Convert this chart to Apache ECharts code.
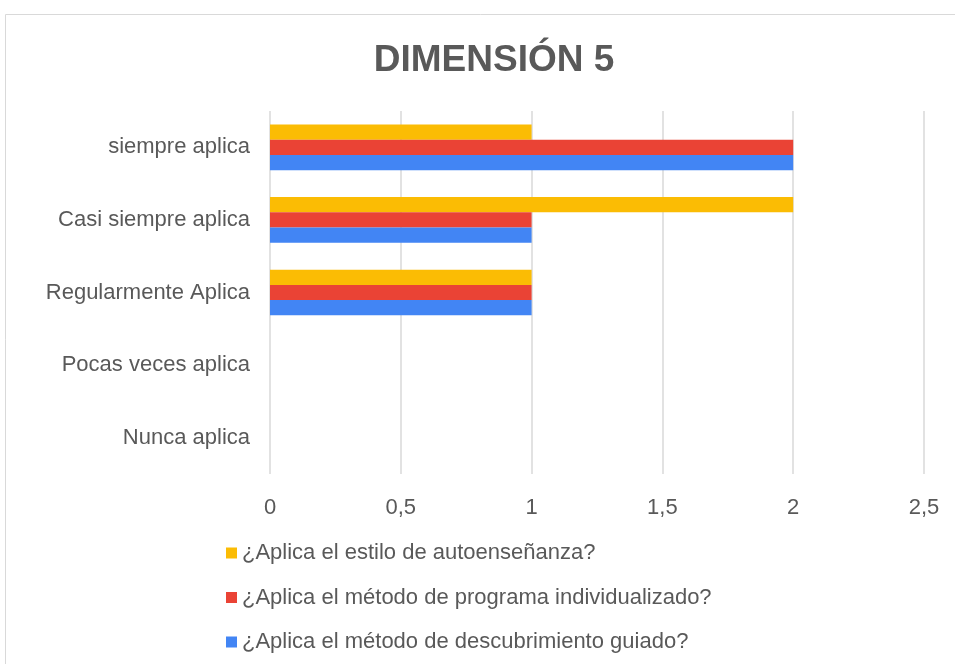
<!DOCTYPE html>
<html>
<head>
<meta charset="utf-8">
<script src="https://cdn.jsdelivr.net/npm/echarts@6/dist/echarts.min.js"></script>
<style>
html, body { margin: 0; padding: 0; background: #fff; }
#chart { width: 955px; height: 664px; }
</style>
</head>
<body>
<div id="chart"></div>
<script>
// categories bottom -> top (category axis on y starts at the bottom)
const categories = ['Nunca aplica', 'Pocas veces aplica', 'Regularmente Aplica', 'Casi siempre aplica', 'siempre aplica'];
const seriesNames = [
    '¿Aplica el estilo de autoenseñanza?',
    '¿Aplica el método de programa individualizado?',
    '¿Aplica el método de descubrimiento guiado?'
];
const autoensenanza = [0, 0, 1, 2, 1];
const programaIndividualizado = [0, 0, 1, 1, 2];
const descubrimientoGuiado = [0, 0, 1, 1, 2];
const colors = ['#FBBC04', '#EA4335', '#4285F4'];

const font = 'Liberation Sans, Arial, sans-serif';
const chart = echarts.init(document.getElementById('chart'));

function barSeries(name, data, color) {
    return {
        name: name,
        type: 'bar',
        data: data,
        barGap: '0%',
        barCategoryGap: '37%',
        itemStyle: { color: color },
        emphasis: { disabled: true }
    };
}

const option = {
    animation: false,
    title: {
        text: 'DIMENSIÓN 5',
        left: 489,
        textAlign: 'center',
        top: 37,
        textStyle: {
            color: '#595959',
            fontSize: 37,
            fontWeight: 'bold',
            fontFamily: font
        }
    },
    graphic: [{
        type: 'rect',
        shape: { x: 5.5, y: 14.5, width: 1000, height: 700 },
        style: { fill: 'none', stroke: '#d9d9d9', lineWidth: 1 },
        silent: true
    }],
    grid: {
        left: 270,
        right: 31,
        top: 111,
        bottom: 190,
        containLabel: false
    },
    xAxis: {
        type: 'value',
        min: 0,
        max: 2.5,
        interval: 0.5,
        axisLine: { show: false },
        axisTick: { show: false },
        splitLine: { lineStyle: { color: '#d9d9d9', width: 1.5 } },
        axisLabel: {
            color: '#595959',
            fontSize: 22,
            fontFamily: font,
            margin: 23,
            formatter: function (v) { return String(v).replace('.', ','); }
        }
    },
    yAxis: {
        type: 'category',
        data: categories,
        axisLine: { show: false },
        axisTick: { show: false },
        axisLabel: {
            color: '#595959',
            fontSize: 22,
            fontFamily: font,
            margin: 20
        }
    },
    legend: {
        orient: 'vertical',
        left: 221,
        top: 537,
        itemWidth: 11,
        itemHeight: 11,
        itemGap: 22.5,
        icon: 'rect',
        data: seriesNames,
        textStyle: {
            color: '#595959',
            fontSize: 22,
            fontFamily: font,
            padding: [0, 0, 0, 0]
        }
    },
    // series listed top -> bottom inside each category band
    series: [
        barSeries(seriesNames[0], autoensenanza, colors[0]),
        barSeries(seriesNames[1], programaIndividualizado, colors[1]),
        barSeries(seriesNames[2], descubrimientoGuiado, colors[2])
    ]
};
chart.setOption(option);
</script>
</body>
</html>
